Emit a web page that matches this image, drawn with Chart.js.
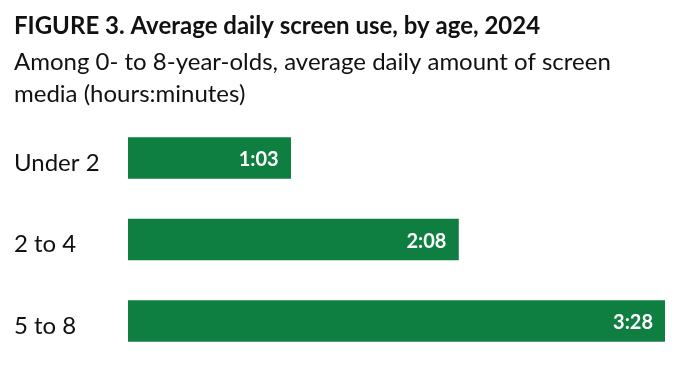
<!DOCTYPE html>
<html>
<head>
<meta charset="utf-8">
<script src="https://cdn.jsdelivr.net/npm/chart.js@4.4.1/dist/chart.umd.min.js"></script>
<style>
  html, body { margin: 0; padding: 0; background: #fff; }
  #wrap { width: 688px; height: 374px; position: relative; }
</style>
</head>
<body>
<div id="wrap"><canvas id="c" width="688" height="374"></canvas></div>
<script>
const titleText = "FIGURE 3. Average daily screen use, by age, 2024";
const subtitleLines = ["Among 0- to 8-year-olds, average daily amount of screen", "media (hours:minutes)"];
const categories = ["Under 2", "2 to 4", "5 to 8"];
const minutesValues = [63, 128, 208];
const valueLabels = ["1:03", "2:08", "3:28"];

const barColor = "#0e7f41";

const valueLabelPlugin = {
  id: "valueLabels",
  afterDatasetsDraw(chart) {
    const ctx = chart.ctx;
    const meta = chart.getDatasetMeta(0);
    ctx.save();
    ctx.font = "bold 20px Lato";
    ctx.fillStyle = "#ffffff";
    ctx.textAlign = "right";
    ctx.textBaseline = "middle";
    meta.data.forEach((bar, i) => {
      const p = bar.getProps(["x", "y"], true);
      ctx.fillText(valueLabels[i], p.x - 12, p.y + 2);
    });
    ctx.restore();
  }
};

new Chart(document.getElementById("c"), {
  type: "bar",
  data: {
    labels: categories,
    datasets: [{
      data: minutesValues,
      backgroundColor: barColor,
      borderWidth: 0,
      barThickness: 41
    }]
  },
  plugins: [valueLabelPlugin],
  options: {
    indexAxis: "y",
    responsive: false,
    animation: false,
    layout: { padding: { left: 14, right: 23, bottom: 12.3, top: 0 } },
    plugins: {
      legend: { display: false },
      tooltip: { enabled: false },
      title: {
        display: true,
        text: titleText,
        align: "start",
        color: "#111111",
        font: { family: "Lato", size: 24, weight: "bold", lineHeight: 1.2 },
        padding: { top: 11.5, bottom: 6.5 }
      },
      subtitle: {
        display: true,
        text: subtitleLines,
        align: "start",
        color: "#111111",
        font: { family: "Lato", size: 24, weight: "normal", lineHeight: 1.33 },
        padding: { top: 0, bottom: 6.6 }
      }
    },
    scales: {
      x: { display: false, min: 0, max: 208, grid: { display: false } },
      y: {
        grid: { display: false },
        border: { display: false },
        afterFit(scale) {
          scale.width = 114;
          scale.paddingTop = 0;
          scale.paddingBottom = 0;
        },
        ticks: {
          crossAlign: "far",
          color: "#111111",
          font: { family: "Lato", size: 24 },
          padding: 10,
          labelOffset: 5
        }
      }
    }
  }
});
</script>
</body>
</html>
